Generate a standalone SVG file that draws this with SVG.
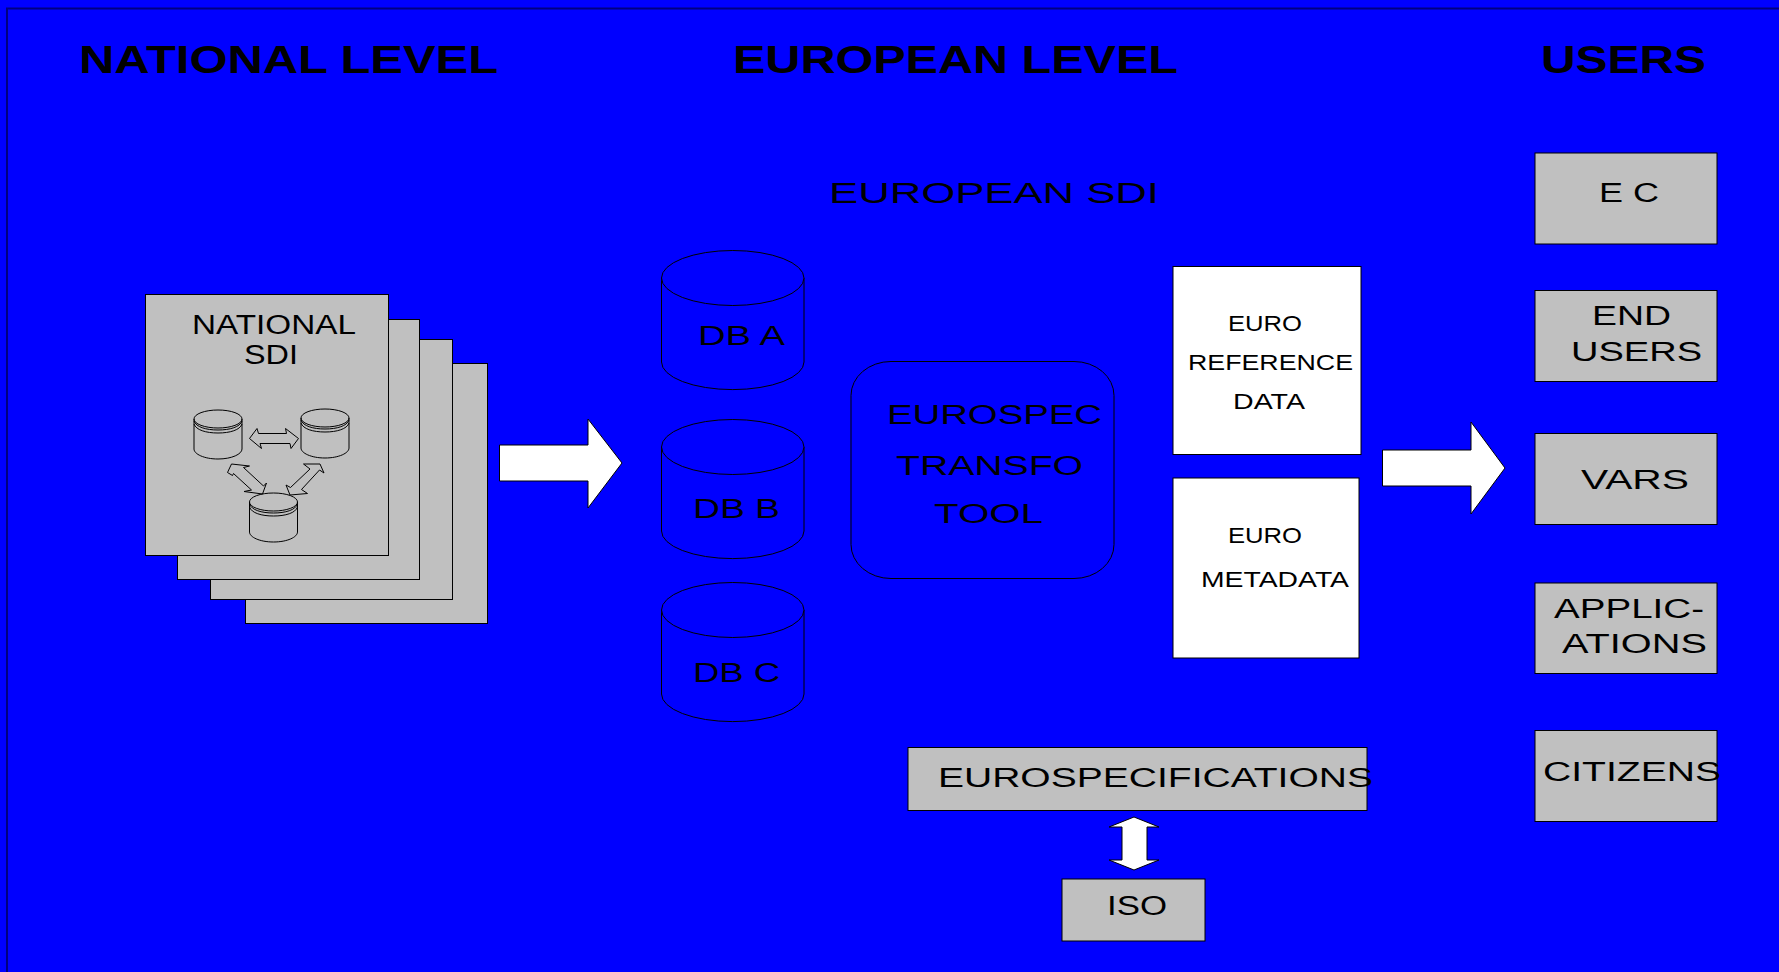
<svg xmlns="http://www.w3.org/2000/svg" width="1779" height="972" viewBox="0 0 1779 972">
<style>
text{font-family:"Liberation Sans",Arial,sans-serif;fill:#000}
.h{font-size:38px;font-weight:bold}
.t{font-size:27px}
.m{font-size:22px}
.g{fill:#c0c0c0;stroke:#000;stroke-width:1}
.w{fill:#fff;stroke:#000;stroke-width:1}
.n{fill:none;stroke:#000;stroke-width:1}
.b{fill:#0000ff;stroke:#000;stroke-width:1}
</style>
<defs>
<g id="big"><path class="b" d="M0 28V112A71 27.5 0 0 0 142.500 112V28"/><ellipse class="b" cx="71.250" cy="28" rx="71.250" ry="27.500"/></g>
<g id="small"><path class="n" d="M0 9V39C0 44 10 49 24 49S48 44 48 39V9"/><ellipse class="n" cx="24" cy="9" rx="24" ry="9"/><path class="n" d="M0 11C2 17 12 20 24 20S46 17 48 11M0 14C2 20 12 23 24 23S46 20 48 14"/></g>
</defs>
<rect width="1779" height="972" fill="#0000ff"/>
<path d="M7 972V8.500H1779" fill="none" stroke="#000080" stroke-width="2"/>
<g id="titles">
<text class="h" x="79" y="73" textLength="419" lengthAdjust="spacingAndGlyphs">NATIONAL LEVEL</text>
<text class="h" x="733" y="73" textLength="445" lengthAdjust="spacingAndGlyphs">EUROPEAN LEVEL</text>
<text class="h" x="1541" y="73" textLength="165" lengthAdjust="spacingAndGlyphs">USERS</text>
<text x="829" y="203" font-size="30" textLength="330" lengthAdjust="spacingAndGlyphs">EUROPEAN SDI</text>
</g>
<g id="connectors">
<path id="arrow-national-european" class="w" d="M499.500 445H588V419L622 463L588 508V481H499.500Z"/>
<path id="arrow-european-users" class="w" d="M1382.500 450H1471V422L1505 468L1471 514V486H1382.500Z"/>
<path id="arrow-spec-iso" class="w" d="M1134 817L1159 827H1147V860H1159L1134 870L1109 860H1122V827H1109Z"/>
</g>
<g id="national-sdi">
<rect class="g" x="245.500" y="363.500" width="242" height="260"/>
<rect class="g" x="210.500" y="339.500" width="242" height="260"/>
<rect class="g" x="177.500" y="319.500" width="242" height="260"/>
<rect class="g" x="145.500" y="294.500" width="243" height="261"/>
<text class="t" x="192" y="334" textLength="164" lengthAdjust="spacingAndGlyphs">NATIONAL</text>
<text class="t" x="244" y="364" textLength="54" lengthAdjust="spacingAndGlyphs">SDI</text>
<use href="#small" x="194" y="410"/>
<use href="#small" x="301" y="409"/>
<use href="#small" x="249.500" y="493"/>
<path class="n" d="M249.500 438.500L257 428.500L258.500 433.500H286.500L285.500 428.500L298.500 438.500L291 448.500L290 443.500H260L261.500 448.500Z"/>
<path class="n" d="M227.500 472.500L231.500 464L249.500 466L243.500 467.500L263.500 486L266.500 483L262.500 494L244 491.500L251.500 490L233.500 473.500L232.500 475.500Z"/>
<path class="n" d="M303.500 464L320 464L324 473L319.500 470L301.500 489.500L307.500 493.500L290 495L286 485L290.500 487.500L310 469Z"/>
</g>
<g id="db-a"><use href="#big" x="661.500" y="250"/><text class="t" x="698" y="345" textLength="87" lengthAdjust="spacingAndGlyphs">DB A</text></g>
<g id="db-b"><use href="#big" x="661.500" y="419"/><text class="t" x="693" y="518" textLength="87" lengthAdjust="spacingAndGlyphs">DB B</text></g>
<g id="db-c"><use href="#big" x="661.500" y="582"/><text class="t" x="693" y="682" textLength="87" lengthAdjust="spacingAndGlyphs">DB C</text></g>
<g id="transform-tool">
<rect class="b" x="851" y="361.500" width="263" height="217" rx="40" ry="34"/>
<text class="t" x="887" y="424" textLength="215" lengthAdjust="spacingAndGlyphs">EUROSPEC</text>
<text class="t" x="896" y="475" textLength="187" lengthAdjust="spacingAndGlyphs">TRANSFO</text>
<text class="t" x="934" y="523" textLength="109" lengthAdjust="spacingAndGlyphs">TOOL</text>
</g>
<g id="euro-reference-data">
<rect class="w" x="1173" y="266.500" width="188" height="188"/>
<text class="m" x="1228" y="331" textLength="74" lengthAdjust="spacingAndGlyphs">EURO</text>
<text class="m" x="1188" y="370" textLength="165" lengthAdjust="spacingAndGlyphs">REFERENCE</text>
<text class="m" x="1233" y="409" textLength="72" lengthAdjust="spacingAndGlyphs">DATA</text>
</g>
<g id="euro-metadata">
<rect class="w" x="1173" y="478" width="186" height="180"/>
<text class="m" x="1228" y="543" textLength="74" lengthAdjust="spacingAndGlyphs">EURO</text>
<text class="m" x="1201" y="587" textLength="148" lengthAdjust="spacingAndGlyphs">METADATA</text>
</g>
<g id="eurospecifications">
<rect class="g" x="908" y="747.500" width="459" height="63"/>
<text class="t" x="938" y="787" textLength="435" lengthAdjust="spacingAndGlyphs">EUROSPECIFICATIONS</text>
</g>
<g id="iso">
<rect class="g" x="1062" y="879" width="143" height="62"/>
<text class="t" x="1107" y="915" textLength="60" lengthAdjust="spacingAndGlyphs">ISO</text>
</g>
<g id="ec"><rect class="g" x="1535" y="153" width="182" height="91"/><text class="t" x="1599" y="202" textLength="60" lengthAdjust="spacingAndGlyphs">E C</text></g>
<g id="end-users"><rect class="g" x="1535" y="290.500" width="182" height="91"/><text class="t" x="1592" y="325" textLength="79" lengthAdjust="spacingAndGlyphs">END</text><text class="t" x="1571" y="361" textLength="131" lengthAdjust="spacingAndGlyphs">USERS</text></g>
<g id="vars"><rect class="g" x="1535" y="433.500" width="182" height="91"/><text class="t" x="1581" y="489" textLength="108" lengthAdjust="spacingAndGlyphs">VARS</text></g>
<g id="applications"><rect class="g" x="1535" y="583" width="182" height="90.500"/><text class="t" x="1554" y="618" textLength="150" lengthAdjust="spacingAndGlyphs">APPLIC-</text><text class="t" x="1562" y="653" textLength="145" lengthAdjust="spacingAndGlyphs">ATIONS</text></g>
<g id="citizens"><rect class="g" x="1535" y="730.500" width="182" height="91"/><text class="t" x="1543" y="781" textLength="178" lengthAdjust="spacingAndGlyphs">CITIZENS</text></g>
</svg>
